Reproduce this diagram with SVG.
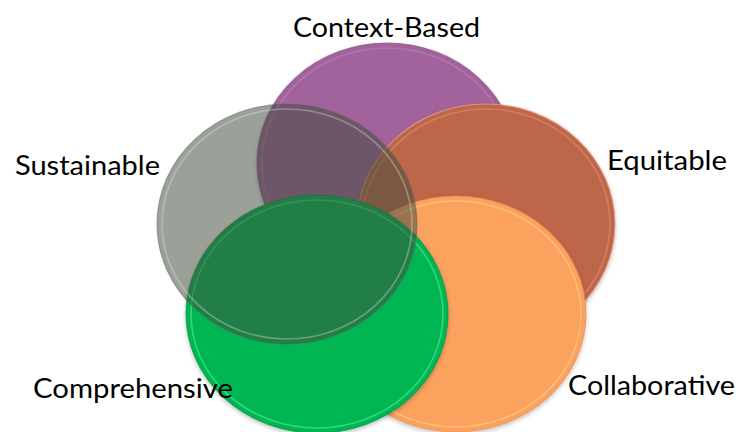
<svg xmlns="http://www.w3.org/2000/svg" width="740" height="432" viewBox="0 0 740 432">
  <defs>
    <style>
      .lbl { font-family: "Lato", "Liberation Sans", Arial, sans-serif; font-size: 27px; fill: #000; }
      .rim { fill: none; stroke-width: 1.6; }
      .edge { fill: none; stroke-width: 1.2; }
    </style>
    <filter id="sh" x="-10%" y="-10%" width="120%" height="125%">
      <feGaussianBlur in="SourceAlpha" stdDeviation="2"/>
      <feOffset dx="0" dy="2" result="b"/>
      <feComponentTransfer><feFuncA type="linear" slope="0.25"/></feComponentTransfer>
      <feMerge><feMergeNode/><feMergeNode in="SourceGraphic"/></feMerge>
    </filter>
  </defs>
  <rect width="740" height="432" fill="#ffffff"/>

  <g id="context-based" filter="url(#sh)">
    <ellipse cx="387" cy="163" rx="130" ry="120" fill="#A2639C"/>
    <ellipse class="rim" cx="387" cy="163" rx="125" ry="115" stroke="#C48BBE" stroke-opacity="0.45"/>
    <ellipse class="edge" cx="387" cy="163" rx="130" ry="120" stroke="#7E4A79" stroke-opacity="0.6"/>
  </g>

  <g id="equitable" filter="url(#sh)">
    <ellipse cx="486" cy="224" rx="129" ry="120" fill="#BD664A"/>
    <ellipse class="rim" cx="486" cy="224" rx="124" ry="115" stroke="#E5967A" stroke-opacity="0.5"/>
    <ellipse class="edge" cx="486" cy="224" rx="129" ry="120" stroke="#E89C80" stroke-opacity="0.8"/>
  </g>

  <g id="collaborative" filter="url(#sh)">
    <ellipse cx="456" cy="314" rx="130" ry="118" fill="#FBA25F"/>
    <ellipse class="rim" cx="456" cy="314" rx="125" ry="113" stroke="#FFD08C" stroke-opacity="0.6"/>
    <ellipse class="edge" cx="456" cy="314" rx="130" ry="118" stroke="#E8894A" stroke-opacity="0.6"/>
  </g>

  <g id="comprehensive" filter="url(#sh)">
    <ellipse cx="317" cy="314" rx="131" ry="119" fill="#00B652"/>
    <ellipse class="rim" cx="317" cy="314" rx="126" ry="114" stroke="#4CF094" stroke-opacity="0.6"/>
    <ellipse class="edge" cx="317" cy="314" rx="131" ry="119" stroke="#019A45" stroke-opacity="0.7"/>
  </g>

  <g id="sustainable">
    <ellipse cx="287" cy="224" rx="130" ry="120" fill="#3F4A3C" fill-opacity="0.52"/>
    <ellipse class="rim" cx="287" cy="224" rx="125" ry="115" stroke="#E4E8E2" stroke-opacity="0.35"/>
    <ellipse class="edge" cx="287" cy="224" rx="130" ry="120" stroke="#5E665B" stroke-opacity="0.5"/>
  </g>

  <g id="labels">
    <text class="lbl" x="293" y="37" textLength="187" lengthAdjust="spacingAndGlyphs">Context-Based</text>
    <text class="lbl" x="15" y="175" textLength="145" lengthAdjust="spacingAndGlyphs">Sustainable</text>
    <text class="lbl" x="607" y="170" textLength="120" lengthAdjust="spacingAndGlyphs">Equitable</text>
    <text class="lbl" x="33" y="398" textLength="200" lengthAdjust="spacingAndGlyphs">Comprehensive</text>
    <text class="lbl" x="568" y="395" textLength="167" lengthAdjust="spacingAndGlyphs">Collaborative</text>
  </g>
</svg>
